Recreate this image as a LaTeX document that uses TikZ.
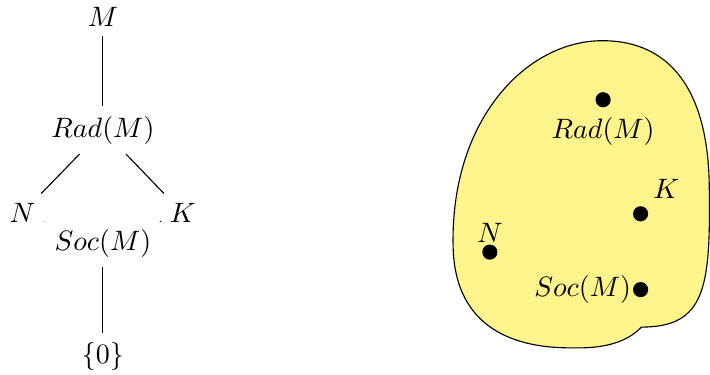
\documentclass[tikz,border=0pt]{standalone}
\usepackage{amsmath}
\usepackage{amssymb}
\usepackage{xcolor}
\usepackage{tikz}
\usetikzlibrary{calc}

\begin{document}
\begin{tikzpicture}[dot/.style={circle,fill=black,inner sep=0pt,minimum size=5.4pt}]
\useasboundingbox (0,0) rectangle (8.9,-4.7);
\definecolor{c1}{RGB}{253,244,140}

% lattice
\node (M0) at (1.29,-0.21) {$M$};
\node (R0) at (1.29,-1.63) {$Rad(M)$};
\node (N0) at (0.28,-2.67) {$N$};
\node (K0) at (2.29,-2.67) {$K$};
\node (S0) at (1.29,-3.05) {$Soc(M)$};
\node (Z0) at (1.29,-4.47) {$\{0\}$};

\draw (M0) -- (R0);
\draw (R0) -- (N0);
\draw (R0) -- (K0);
\draw (N0) -- (S0);
\draw (K0) -- (S0);
\draw (S0) -- (Z0);

% blob
\coordinate (L1) at (5.68,-3.10);
\coordinate (T1) at (7.55,-0.51);
\coordinate (R1) at (8.89,-2.3);
\coordinate (C1) at (8.04,-4.10);
\coordinate (B1) at (7.18,-4.36);
\draw[fill=c1] (L1) .. controls (5.64,-1.5) and (6.6,-0.51) .. (T1)
  .. controls (8.45,-0.51) and (8.87,-1.2) .. (R1)
  .. controls (8.91,-3.6) and (8.85,-4.1) .. (C1)
  .. controls (7.85,-4.3) and (7.55,-4.37) .. (B1)
  .. controls (6.3,-4.37) and (5.7,-4.0) .. (L1) -- cycle;

\node[dot,label=below:{$Rad(M)$}] (R2) at (7.56,-1.25) {};
\node[dot,label={[xshift=-1pt]above right:$K$}] (K2) at (8.03,-2.68) {};
\node[dot,label={[yshift=-3pt]above:$N$}] (N2) at (6.14,-3.16) {};
\node[dot,label={[xshift=3pt]left:$Soc(M)$}] (S2) at (8.03,-3.63) {};
\end{tikzpicture}
\end{document}
